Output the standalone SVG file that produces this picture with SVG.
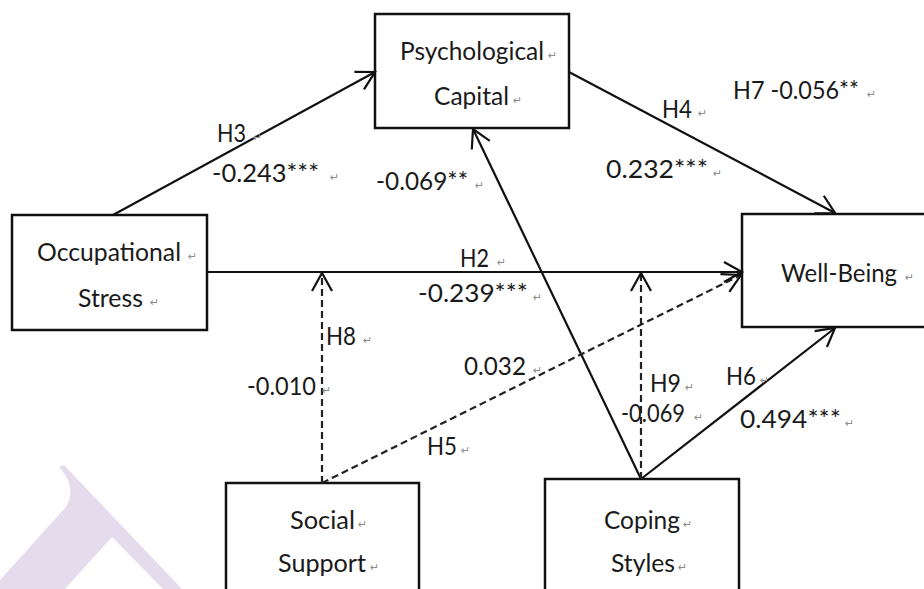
<svg xmlns="http://www.w3.org/2000/svg" width="924" height="589" viewBox="0 0 924 589">
  <style>
    .box { fill: #fff; stroke: #111; stroke-width: 2.5; }
    .t { font-family: Lato, "Liberation Sans", sans-serif; font-size: 25px; fill: #1a1a1a; }
    .pm { font-family: "DejaVu Sans", sans-serif; font-size: 11px; fill: #8c8c8c; }
    .solid { fill: none; stroke: #111; stroke-width: 2.2; marker-end: url(#arrow); }
    .dash { fill: none; stroke: #222; stroke-width: 2.2; stroke-dasharray: 7 4; marker-end: url(#arrow); }
  </style>
  <defs>
    <marker id="arrow" markerUnits="userSpaceOnUse" viewBox="-22 -13 25 26" refX="0" refY="0" markerWidth="25" markerHeight="26" orient="auto" overflow="visible">
      <path d="M-18,-10 L0,0 L-18,10" fill="none" stroke="#111" stroke-width="2.2" stroke-dasharray="none"/>
    </marker>
  </defs>

  <rect width="924" height="589" fill="#fff"/>

  <!-- faint watermark mark, lower left -->
  <path d="M0,580 L65,508 C73,497 73,482 59,467 L64,465 L182,589 L163,589 L112,537 L65,589 L0,589 Z" fill="#e4dcec"/>

  <!-- nodes -->
  <g id="psychological-capital">
    <rect class="box" x="375" y="14" width="194" height="114"/>
    <text class="t" x="400" y="60" textLength="144" lengthAdjust="spacingAndGlyphs">Psychological</text>
    <text class="pm" x="548" y="59">↵</text>
    <text class="t" x="434" y="105" textLength="75" lengthAdjust="spacingAndGlyphs">Capital</text>
    <text class="pm" x="513" y="104">↵</text>
  </g>

  <g id="occupational-stress">
    <rect class="box" x="12" y="215" width="195" height="115"/>
    <text class="t" x="37" y="261" textLength="144" lengthAdjust="spacingAndGlyphs">Occupational</text>
    <text class="pm" x="188" y="260">↵</text>
    <text class="t" x="78" y="307" textLength="65" lengthAdjust="spacingAndGlyphs">Stress</text>
    <text class="pm" x="150" y="306">↵</text>
  </g>

  <g id="well-being">
    <rect class="box" x="742" y="214" width="190" height="113"/>
    <text class="t" x="781" y="282" textLength="116" lengthAdjust="spacingAndGlyphs">Well-Being</text>
    <text class="pm" x="905" y="281">↵</text>
  </g>

  <g id="social-support">
    <rect class="box" x="226" y="483" width="193" height="120"/>
    <text class="t" x="290" y="529" textLength="65" lengthAdjust="spacingAndGlyphs">Social</text>
    <text class="pm" x="358" y="528">↵</text>
    <text class="t" x="278" y="572" textLength="88" lengthAdjust="spacingAndGlyphs">Support</text>
    <text class="pm" x="370" y="571">↵</text>
  </g>

  <g id="coping-styles">
    <rect class="box" x="545" y="479" width="194" height="124"/>
    <text class="t" x="604" y="529" textLength="76" lengthAdjust="spacingAndGlyphs">Coping</text>
    <text class="pm" x="683" y="528">↵</text>
    <text class="t" x="611" y="572" textLength="64" lengthAdjust="spacingAndGlyphs">Styles</text>
    <text class="pm" x="678" y="571">↵</text>
  </g>

  <!-- connectors -->
  <g id="connectors">
    <line class="solid" x1="113" y1="215" x2="375" y2="72"/>
    <line class="solid" x1="569" y1="72" x2="835" y2="213"/>
    <line class="solid" x1="207" y1="272" x2="742" y2="272"/>
    <line class="solid" x1="641" y1="479" x2="473" y2="129"/>
    <line class="solid" x1="641" y1="479" x2="835" y2="328"/>
    <line class="dash" x1="322" y1="483" x2="322" y2="273"/>
    <line class="dash" x1="641" y1="479" x2="641" y2="273"/>
    <line class="dash" x1="322" y1="483" x2="741" y2="275"/>
  </g>

  <!-- path labels -->
  <g id="labels">
    <text class="t" x="217" y="142" textLength="29" lengthAdjust="spacingAndGlyphs">H3</text>
    <text class="pm" x="253" y="141">↵</text>
    <text class="t" x="212" y="182" textLength="107" lengthAdjust="spacingAndGlyphs">-0.243***</text>
    <text class="pm" x="330" y="181">↵</text>

    <text class="t" x="376" y="190" textLength="92" lengthAdjust="spacingAndGlyphs">-0.069**</text>
    <text class="pm" x="475" y="189">↵</text>

    <text class="t" x="662" y="118" textLength="30" lengthAdjust="spacingAndGlyphs">H4</text>
    <text class="pm" x="698" y="117">↵</text>
    <text class="t" x="606" y="178" textLength="102" lengthAdjust="spacingAndGlyphs">0.232***</text>
    <text class="pm" x="713" y="177">↵</text>

    <text class="t" x="733" y="99" textLength="126" lengthAdjust="spacingAndGlyphs">H7 -0.056**</text>
    <text class="pm" x="867" y="98">↵</text>

    <text class="t" x="460" y="267" textLength="29" lengthAdjust="spacingAndGlyphs">H2</text>
    <text class="pm" x="497" y="266">↵</text>
    <text class="t" x="418" y="302" textLength="110" lengthAdjust="spacingAndGlyphs">-0.239***</text>
    <text class="pm" x="533" y="301">↵</text>

    <text class="t" x="326" y="345" textLength="30" lengthAdjust="spacingAndGlyphs">H8</text>
    <text class="pm" x="363" y="344">↵</text>
    <text class="t" x="247" y="395" textLength="69" lengthAdjust="spacingAndGlyphs">-0.010</text>
    <text class="pm" x="322" y="394">↵</text>

    <text class="t" x="464" y="375" textLength="62" lengthAdjust="spacingAndGlyphs">0.032</text>
    <text class="pm" x="533" y="374">↵</text>

    <text class="t" x="427" y="455" textLength="30" lengthAdjust="spacingAndGlyphs">H5</text>
    <text class="pm" x="461" y="454">↵</text>

    <text class="t" x="650" y="392" textLength="31" lengthAdjust="spacingAndGlyphs">H9</text>
    <text class="pm" x="685" y="391">↵</text>
    <text class="t" x="621" y="422" textLength="64" lengthAdjust="spacingAndGlyphs">-0.069</text>
    <text class="pm" x="694" y="421">↵</text>

    <text class="t" x="726" y="385" textLength="30" lengthAdjust="spacingAndGlyphs">H6</text>
    <text class="pm" x="760" y="384">↵</text>
    <text class="t" x="740" y="428" textLength="101" lengthAdjust="spacingAndGlyphs">0.494***</text>
    <text class="pm" x="845" y="427">↵</text>
  </g>
</svg>
